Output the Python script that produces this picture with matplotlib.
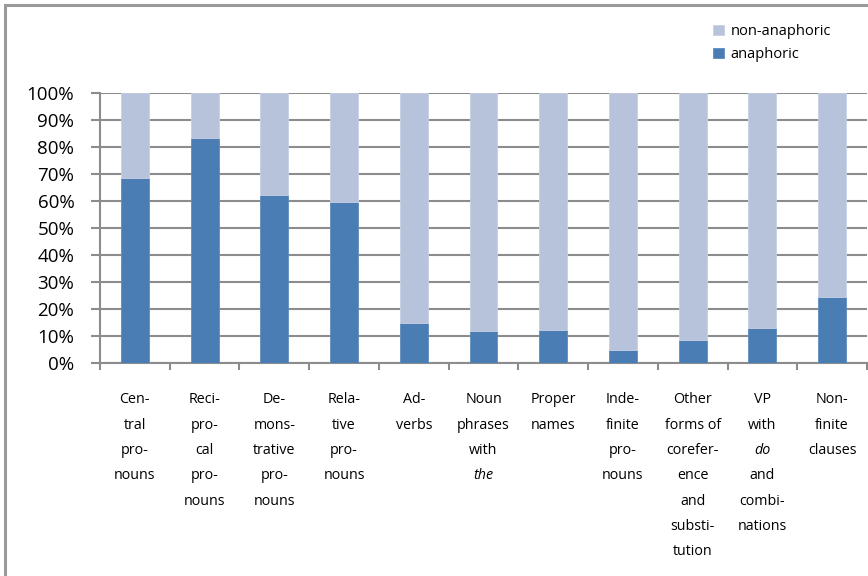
import matplotlib
matplotlib.use("Agg")
import matplotlib.pyplot as plt
from matplotlib.patches import Rectangle
import numpy as np

categories = [
    ["Cen-", "tral", "pro-", "nouns"],
    ["Reci-", "pro-", "cal", "pro-", "nouns"],
    ["De-", "mons-", "trative", "pro-", "nouns"],
    ["Rela-", "tive", "pro-", "nouns"],
    ["Ad-", "verbs"],
    ["Noun", "phrases", "with", "*the*"],
    ["Proper", "names"],
    ["Inde-", "finite", "pro-", "nouns"],
    ["Other", "forms of", "corefer-", "ence", "and", "substi-", "tution"],
    ["VP", "with", "*do*", "and", "combi-", "nations"],
    ["Non-", "finite", "clauses"],
]
anaphoric = [68.5, 83.3, 62.3, 59.7, 14.8, 12.0, 12.4, 5.0, 8.7, 13.2, 24.6]
non_anaphoric = [100 - v for v in anaphoric]
yticks = [0, 10, 20, 30, 40, 50, 60, 70, 80, 90, 100]
ytick_labels = [f"{t}%" for t in yticks]

c_ana = "#4A7DB3"
c_non = "#B7C2DB"
grid_c = "#8C8C8C"
font = "Open Sans"

W, H = 868, 576
fig = plt.figure(figsize=(W / 100, H / 100), dpi=100)
ax = fig.add_axes([100 / W, 1 - 363.3 / H, 767 / W, 270 / H])

x = np.arange(len(categories))
ax.bar(x, anaphoric, width=0.4, color=c_ana, label="anaphoric", zorder=3,
       edgecolor="#5F8CBF", linewidth=0.6)
ax.bar(x, non_anaphoric, bottom=anaphoric, width=0.4, color=c_non,
       label="non-anaphoric", zorder=3, edgecolor="#C8D0E4", linewidth=0.6)

ax.set_xlim(-0.5, len(categories) - 0.5)
ax.set_ylim(0, 100)
ax.set_yticks(yticks)
ax.set_yticklabels(ytick_labels, fontsize=13.5, family=font, color="black")
ax.yaxis.grid(True, color=grid_c, linewidth=1.5, zorder=0)
for s in ["top", "right"]:
    ax.spines[s].set_visible(False)
ax.spines["left"].set_color(grid_c)
ax.spines["left"].set_linewidth(1.5)
ax.spines["bottom"].set_color(grid_c)
ax.spines["bottom"].set_linewidth(1.5)
ax.tick_params(axis="y", length=6.5, width=1.5, color=grid_c, pad=12)
ax.set_xticks(np.arange(len(categories) + 1) - 0.5)
ax.set_xticklabels([])
ax.tick_params(axis="x", length=5, width=1.5, color=grid_c)

for i, lines in enumerate(categories):
    for j, line in enumerate(lines):
        italic = line.startswith("*") and line.endswith("*")
        txt = line.strip("*")
        ax.annotate(txt, xy=(i, 0), xycoords=("data", "axes fraction"),
                    xytext=(0, -26.4 - 18.2 * j), textcoords="offset points",
                    ha="center", va="center", fontsize=10.3, family=font,
                    style="italic" if italic else "normal")

# legend
handles, labels = ax.get_legend_handles_labels()
leg = fig.legend(handles[::-1], labels[::-1], loc="upper left",
                 bbox_to_anchor=(713 / W, 1 - 24 / H), frameon=False,
                 prop={"family": font, "size": 10.5}, handlelength=0.75,
                 handleheight=0.75, handletextpad=0.45, labelspacing=0.55,
                 borderaxespad=0, borderpad=0)

# outer frame
fig.patches.append(Rectangle((5 / W, -0.1), 1.2, 1.1 - 5 / H,
                             transform=fig.transFigure, fill=False,
                             edgecolor="#9A9A9A", linewidth=2.2))

fig.savefig("out.png", dpi=100)
